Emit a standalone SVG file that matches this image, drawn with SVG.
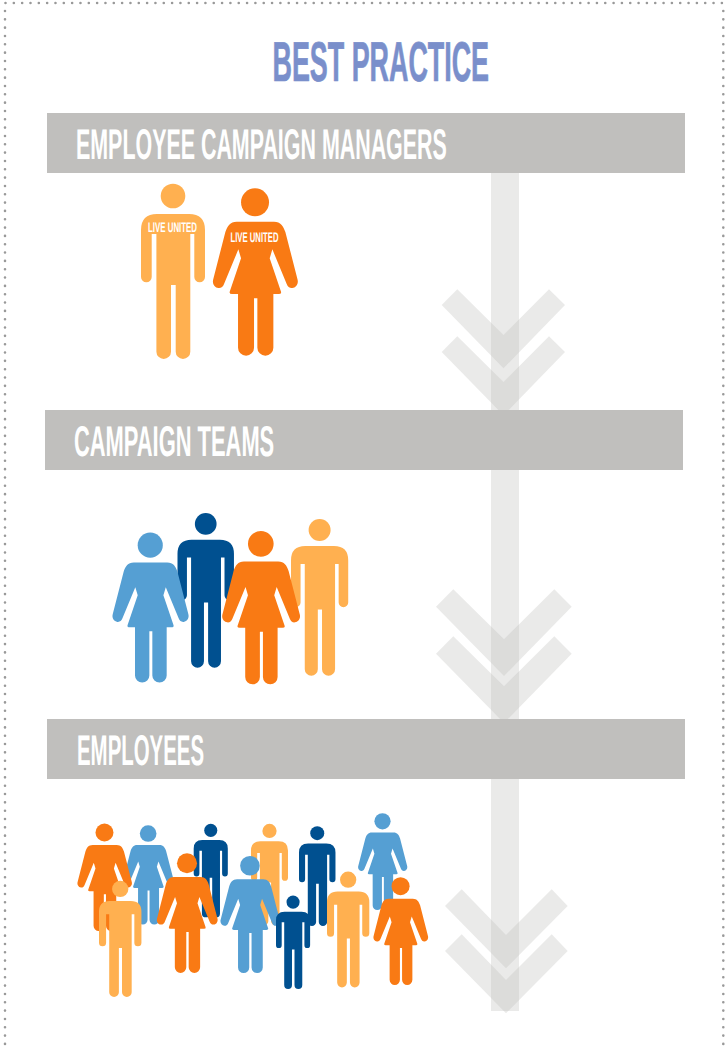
<svg xmlns="http://www.w3.org/2000/svg" width="725" height="1046" viewBox="0 0 725 1046">
<style>
.dots{fill:none;stroke:#999;stroke-width:2.6;stroke-linecap:round;stroke-dasharray:0 8.33}
.band{fill:#c0bfbd}
.soft{fill:#c0bfbd;fill-opacity:.33}
text{font-family:"Liberation Sans",Arial,sans-serif;font-weight:700;text-rendering:geometricPrecision}
.head{fill:#fff;font-size:43px}
.title{fill:#7a8fcb;stroke:#7a8fcb;stroke-width:.7;font-size:56px}
.tag{fill:#fff;font-size:14px}
.lo{fill:#ffb050}.o{fill:#f97a14}.b{fill:#559fd3}.d{fill:#005090}
</style>
<defs>
<g id="man">
<circle cx="32" cy="12" r="12.3"/>
<path d="M16 30H48Q64 30 64 46V93A5.35 5.35 0 0 1 53.3 93V50H49.3V167.7A7.3 7.3 0 0 1 34.7 167.7V101H30V167.7A7.3 7.3 0 0 1 15.4 167.7V50H10.7V93A5.35 5.35 0 0 1 0 93V46Q0 30 16 30Z"/>
</g>
<g id="woman">
<circle cx="127" cy="43" r="42"/>
<path d="M72 101H184C204 101 212 114 218 132L254 272C259 287 250 299 239 300C231 301 225 296 222 288L179 184L171 211L205 311Q207 318 198 318H182V479A24 24 0 0 1 134 479V331H124V479A24 24 0 0 1 76 479V318H58Q49 318 51 311L85 211L77 184L34 288C31 296 25 301 17 300C6 299 -3 287 2 272L38 132C44 114 52 101 72 101Z"/>
</g>
</defs>
<g id="frame">
<path class="dots" d="M5.5 3H725"/>
<path class="dots" d="M5 11V1046"/>
<path class="dots" d="M723.3 11V1046"/>
</g>
<g id="connectors">
<rect class="soft" x="491" y="173" width="28" height="838"/>
<path class="soft" d="M457.3 289.3L441.7 305L503.5 368.3L565 305L549 289.3L503.5 335Z"/>
<path class="soft" d="M457.3 336.3L441.7 352L503.5 415.3L565 352L549 336.3L503.5 382Z"/>
<path class="soft" d="M453.3 589.3L436 606.7L504 676L571.7 606.7L554.3 589.3L504 639.3Z"/>
<path class="soft" d="M453.3 636.3L436 653.7L504 723L571.7 653.7L554.3 636.3L504 686.3Z"/>
<path class="soft" d="M461.7 889.3L445 906L506 968.3L567.7 906L551.7 889.3L506 935Z"/>
<path class="soft" d="M461.7 934.3L445 951L506 1013.3L567.7 951L551.7 934.3L506 980Z"/>
</g>
<g id="title"><text class="title" transform="translate(272.5 81) scale(.48 1)">BEST PRACTICE</text></g>
<g id="band-managers"><rect class="band" x="47" y="113" width="638" height="60"/><text class="head" transform="translate(76 159) scale(.498 1)">EMPLOYEE CAMPAIGN MANAGERS</text></g>
<g id="band-teams"><rect class="band" x="45" y="410" width="638" height="60"/><text class="head" transform="translate(74 456) scale(.509 1)">CAMPAIGN TEAMS</text></g>
<g id="band-employees"><rect class="band" x="47" y="719" width="638" height="60"/><text class="head" transform="translate(77 765) scale(.475 1)">EMPLOYEES</text></g>
<g id="manager-man"><use href="#man" class="lo" transform="translate(141 184)"/><text class="tag" transform="translate(148 232) scale(.5625 1)">LIVE UNITED</text></g>
<g id="manager-woman"><use href="#woman" class="o" transform="translate(212.7 188) scale(.3333)"/><text class="tag" transform="translate(230.5 242) scale(.551 1)">LIVE UNITED</text></g>
<g id="team">
<g id="team-dark"><use href="#man" class="d" transform="translate(177.5 513.3) scale(.882)"/></g>
<g id="team-light"><use href="#man" class="lo" transform="translate(291 519.3) scale(.894)"/></g>
<g id="team-blue"><use href="#woman" class="b" transform="translate(112.3 532.3) scale(.2988)"/></g>
<g id="team-orange"><use href="#woman" class="o" transform="translate(222 530.7) scale(.3055)"/></g>
</g>
<g id="crowd">
<g id="crowd-b1"><use href="#woman" class="b" transform="translate(123 825) scale(.198)"/></g>
<g id="crowd-o1"><use href="#woman" class="o" transform="translate(77.3 823.3) scale(.214)"/></g>
<g id="crowd-d1"><use href="#man" class="d" transform="translate(193.7 824) scale(.533)"/></g>
<g id="crowd-l1"><use href="#man" class="lo" transform="translate(251 824) scale(.578)"/></g>
<g id="crowd-d2"><use href="#man" class="d" transform="translate(299 826.3) scale(.57)"/></g>
<g id="crowd-b2"><use href="#woman" class="b" transform="translate(358 813) scale(.193)"/></g>
<g id="crowd-l2"><use href="#man" class="lo" transform="translate(99 881) scale(.663)"/></g>
<g id="crowd-o2"><use href="#woman" class="o" transform="translate(156.7 853) scale(.2386)"/></g>
<g id="crowd-b3"><use href="#woman" class="b" transform="translate(220.3 855.7) scale(.2333)"/></g>
<g id="crowd-d3"><use href="#man" class="d" transform="translate(276 895.7) scale(.533)"/></g>
<g id="crowd-l3"><use href="#man" class="lo" transform="translate(327 871.7) scale(.661)"/></g>
<g id="crowd-o3"><use href="#woman" class="o" transform="translate(373.3 877) scale(.2147)"/></g>
</g>
</svg>
